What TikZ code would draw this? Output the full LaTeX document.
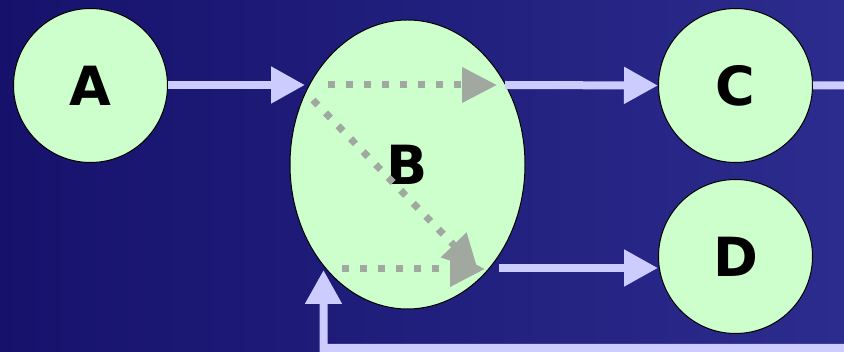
\documentclass[tikz,border=0pt]{standalone}
\usepackage{fontspec}
\setmainfont{DejaVu Sans}
\usetikzlibrary{arrows.meta,shapes.geometric}
\definecolor{bgleft}{RGB}{22,18,108}
\definecolor{bgright}{RGB}{44,44,142}
\definecolor{nodefill}{RGB}{204,255,204}
\definecolor{conn}{RGB}{204,204,255}
\definecolor{dotgray}{RGB}{160,168,160}
\tikzset{
  circnode/.style={circle, draw=black, line width=1pt, fill=nodefill, minimum size=154pt, inner sep=0pt,
    font=\fontsize{54}{54}\selectfont\bfseries},
  ellnode/.style={ellipse, draw=black, line width=1pt, fill=nodefill, minimum width=235pt, minimum height=289pt, inner sep=0pt,
    font=\fontsize{54}{54}\selectfont\bfseries},
  flow/.style={draw=conn, line width=8pt, line join=miter, -{Triangle[length=34pt,width=35pt]}},
  inner/.style={draw=dotgray, line width=7pt, dash pattern=on 7pt off 11pt, -{Triangle[length=35pt,width=34pt]}}
}
\begin{document}
\begin{tikzpicture}[x=1pt,y=-1pt]
\useasboundingbox (0,0) rectangle (844,352);
\clip (0,0) rectangle (844,352);
\shade[left color=bgleft, right color=bgright] (0,0) rectangle (844,352);
\node[circnode] (A) at (90.5,85.5) {A};
\node[ellnode] (B) at (407.5,164.5) {B};
\node[circnode] (C) at (735.5,85.5) {C};
\node[circnode] (D) at (735.5,256.5) {D};
% internal dotted arrows of B
\coordinate (b1s) at (328,85);
\coordinate (b1e) at (497,85);
\coordinate (b2s) at (313,100);
\coordinate (b2e) at (478,270);
\coordinate (b3s) at (342,269);
\coordinate (b3e) at (485,269);
\draw[inner] (b1s) -- (b1e);
\draw[inner] (b2s) -- (b2e);
\draw[inner] (b3s) -- (b3e);
% connectors
\coordinate (Ain) at (305,85);
\draw[flow] (A.east |- 0,85) -- (Ain);
\coordinate (Bout) at (B.east |- 0,85);
\draw[flow] (505,85) -- (C.west);
\coordinate (Bd) at (499,268);
\draw[flow] (Bd) -- (D.west |- 0,268);
\coordinate (r1) at (880,85);
\coordinate (r2) at (880,348);
\coordinate (r3) at (323.5,348);
\coordinate (Bin) at (323.5,270);
\draw[flow] (C.east) -- (r1) -- (r2) -- (r3) -- (Bin);
\end{tikzpicture}
\end{document}
